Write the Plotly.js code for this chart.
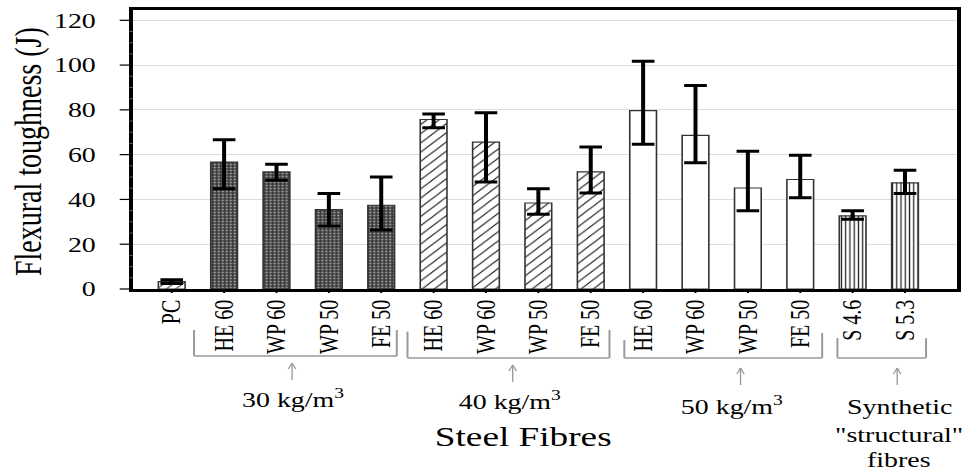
<!DOCTYPE html>
<html>
<head>
<meta charset="utf-8">
<script src="https://cdn.plot.ly/plotly-3.0.1.min.js"></script>
<style>
  html, body { margin: 0; padding: 0; background: #fff; overflow: hidden; }
  /* the figure is laid out narrow and widened horizontally, like the printed original */
  #chart { width: 731px; height: 471px; transform: scaleX(1.3297); transform-origin: 0 0; }
</style>
</head>
<body>
<div id="chart"></div>
<script>
// Mix designations along the x axis
const labels = ['PC', 'HE 60', 'WP 60', 'WP 50', 'FE 50',
                'HE 60', 'WP 60', 'WP 50', 'FE 50',
                'HE 60', 'WP 60', 'WP 50', 'FE 50',
                'S 4.6', 'S 5.3'];
// Fibre family of each mix (plain concrete, steel dosage in kg/m3, synthetic)
const family = ['plain', '30', '30', '30', '30',
                '40', '40', '40', '40',
                '50', '50', '50', '50',
                'syn', 'syn'];
// Mean flexural toughness (J)
const toughness = [3.3, 56.7, 52.3, 35.5, 37.4,
                   75.7, 65.6, 38.4, 52.3,
                   79.7, 68.6, 45.1, 48.9,
                   32.7, 47.4];
// Spread above / below the mean (J)
const errUp   = [0.8, 10.0, 3.4, 7.1, 12.6, 2.5, 13.1, 6.4, 11.1, 22.0, 22.3, 16.4, 10.8, 2.2, 5.6];
const errDown = [0.8, 11.9, 3.7, 7.4, 11.1, 3.7, 17.8, 5.0, 9.4, 15.1, 12.2, 10.2, 8.1, 1.5, 4.8];
// Value-axis ticks (J)
const yTicks = [0, 20, 40, 60, 80, 100, 120];
const yMinorStep = 5;
const yMax = 124.6;

const positions = labels.map((_, i) => i);

const serif = 'Liberation Serif, Times New Roman, serif';

// Fill style per fibre family
const styles = {
  plain: { bgcolor: '#ffffff', fgcolor: '#000000', shape: '/', size: 5, solidity: 0.15 },
  '30':  { bgcolor: '#3a3a3a', fgcolor: '#9c9c9c', shape: '.', size: 3, solidity: 0.3 },
  '40':  { bgcolor: '#ffffff', fgcolor: '#111111', shape: '/', size: 6.5, solidity: 0.14 },
  '50':  { bgcolor: '#ffffff', fgcolor: '#ffffff', shape: '',  size: 8, solidity: 0.1 },
  syn:   { bgcolor: '#ffffff', fgcolor: '#222222', shape: '|', size: 3.2, solidity: 0.3 }
};

const traces = Object.keys(styles).map(fam => {
  const idx = positions.filter(i => family[i] === fam);
  const st = styles[fam];
  return {
    type: 'bar',
    x: idx.map(i => positions[i]),
    y: idx.map(i => toughness[i]),
    width: 0.51,
    marker: {
      color: st.bgcolor,
      line: { color: '#333333', width: 1.2 },
      pattern: {
        shape: st.shape, fillmode: 'replace',
        bgcolor: st.bgcolor, fgcolor: st.fgcolor,
        size: st.size, solidity: st.solidity
      }
    },
    error_y: {
      type: 'data', symmetric: false,
      array: idx.map(i => errUp[i]),
      arrayminus: idx.map(i => errDown[i]),
      color: '#000000', thickness: 3, width: 8.5
    },
    showlegend: false,
    hoverinfo: 'skip'
  };
});

const shapes = [];
const seg = (x0, y0, x1, y1, color, w, xref) => ({
  type: 'line', xref: xref || 'paper', yref: 'paper', x0: x0, y0: y0, x1: x1, y1: y1,
  line: { color: color, width: w }
});

// Tick marks: major and minor ones left of the value axis, short ones under each bar
yTicks.forEach(v => shapes.push(seg(-0.0161, v / yMax, 0, v / yMax, '#000000', 1.2)));
for (let v = yMinorStep; v < yMax; v += yMinorStep) {
  if (!yTicks.includes(v)) shapes.push(seg(-0.005, v / yMax, 0, v / yMax, '#555555', 1));
}
positions.forEach(p => shapes.push(seg(p, 0, p, -0.0143, '#000000', 1.5, 'x')));

// Group brackets under the tick labels (paper coordinates)
const brackets = [
  { x0: 0.074, x1: 0.320, yl: -0.147, yr: -0.147, yb: -0.240 },
  { x0: 0.333, x1: 0.578, yl: -0.153, yr: -0.147, yb: -0.247 },
  { x0: 0.596, x1: 0.836, yl: -0.183, yr: -0.158, yb: -0.247 },
  { x0: 0.8545, x1: 0.962, yl: -0.176, yr: -0.176, yb: -0.247 }
];
const grey = '#9a9a9a';
brackets.forEach(b => {
  shapes.push(seg(b.x0, b.yb, b.x1, b.yb, grey, 1.5));
  shapes.push(seg(b.x0, b.yl, b.x0, b.yb, grey, 1.5));
  shapes.push(seg(b.x1, b.yr, b.x1, b.yb, grey, 1.5));
});

// Small pointer arrows from each bracket down to its group label
const pointers = [
  { x: 0.193, tip: -0.265 },
  { x: 0.4606, tip: -0.272 },
  { x: 0.737, tip: -0.283 },
  { x: 0.927, tip: -0.283 }
];
const shaft = 0.061, headH = 0.022, headW = 0.0045;
pointers.forEach(p => {
  shapes.push(seg(p.x, p.tip, p.x, p.tip - shaft, grey, 1));
  shapes.push(seg(p.x - headW, p.tip - headH, p.x, p.tip, grey, 1));
  shapes.push(seg(p.x + headW, p.tip - headH, p.x, p.tip, grey, 1));
});

const label = (x, y, text, size, angle) => ({
  xref: 'paper', yref: 'paper', x: x, y: y, text: text,
  showarrow: false, xanchor: 'center', yanchor: 'middle', textangle: angle || 0,
  font: { family: serif, size: size, color: '#000000' }
});

const annotations = [
  label(-0.1273, 0.491, 'Flexural toughness (J)', 28, -90),
  label(0.195, -0.391, '30 kg/m<sup>3</sup>', 21),
  label(0.458, -0.398, '40 kg/m<sup>3</sup>', 21),
  label(0.7267, -0.416, '50 kg/m<sup>3</sup>', 21),
  label(0.4733, -0.530, 'Steel Fibres', 28),
  label(0.9297, -0.422, 'Synthetic', 21),
  label(0.9297, -0.523, '"structural"', 21),
  label(0.9297, -0.613, 'fibres', 21)
];

const layout = {
  width: 731, height: 471,
  margin: { l: 100, r: 10.5, t: 10, b: 182 },
  paper_bgcolor: '#ffffff', plot_bgcolor: '#ffffff',
  barmode: 'overlay',
  font: { family: serif, color: '#000000' },
  xaxis: {
    range: [-0.74, 15.0],
    tickmode: 'array', tickvals: positions, ticktext: labels,
    tickangle: -90, tickfont: { family: serif, size: 20, color: '#000000' },
    ticks: '',
    showline: true, linecolor: '#000000', linewidth: 2.5, mirror: true,
    showgrid: false, zeroline: false, fixedrange: true
  },
  yaxis: {
    range: [0, yMax],
    tickmode: 'array', tickvals: yTicks,
    tickfont: { family: serif, size: 21, color: '#000000' },
    // long transparent ticks set the label gap; the visible marks are drawn as shapes
    ticks: 'outside', ticklen: 21, tickwidth: 1, tickcolor: 'rgba(0,0,0,0)',
    showline: true, linecolor: '#000000', linewidth: 2.5, mirror: true,
    showgrid: true, gridcolor: '#dcdcdc', gridwidth: 1, zeroline: false,
    fixedrange: true
  },
  shapes: shapes,
  annotations: annotations
};

Plotly.newPlot('chart', traces, layout, { displayModeBar: false, responsive: false });
</script>
</body>
</html>
